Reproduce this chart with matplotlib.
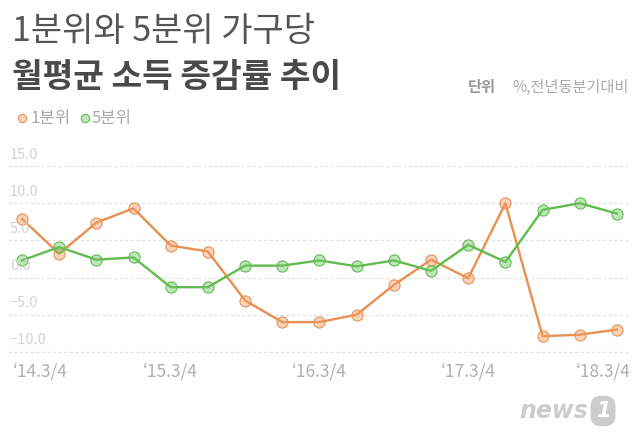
import matplotlib
matplotlib.use("Agg")
import matplotlib.pyplot as plt
import matplotlib.transforms as mtransforms

plt.rcParams['font.family'] = ['Noto Sans CJK KR', 'DejaVu Sans']

# quarterly growth of average monthly household income (% yoy)
quarters = list(range(17))
q1_values = [7.9, 3.2, 7.4, 9.3, 4.3, 3.5, -3.1, -6.0, -6.0, -5.0, -1.0, 2.4, -0.1, 10.0, -7.9, -7.7, -7.0]
q5_values = [2.3, 4.1, 2.4, 2.7, -1.3, -1.3, 1.6, 1.6, 2.3, 1.5, 2.3, 0.9, 4.4, 2.1, 9.1, 10.0, 8.6]
xtick_pos = [0, 4, 8, 12, 16]
xtick_labels = ['\u201814.3/4', '\u201815.3/4', '\u201816.3/4', '\u201817.3/4', '\u201818.3/4']
ytick_vals = [15, 10, 5, 0, -5, -10]

orange = '#e8904f'
orange_face = (0.95, 0.62, 0.42, 0.45)
green = '#62bb4f'
green_face = (0.45, 0.78, 0.40, 0.45)

fig = plt.figure(figsize=(6.4, 4.4), dpi=100)
ax = fig.add_axes([8 / 640, 0.192, 622 / 640, 0.439])

ax.plot(quarters, q1_values, color=orange, lw=1.7, zorder=3,
        marker='o', ms=8, mfc=orange_face, mec=orange, mew=0.8, clip_on=False)
ax.plot(quarters, q5_values, color=green, lw=1.7, zorder=3,
        marker='o', ms=8, mfc=green_face, mec=green, mew=0.8, clip_on=False)

ax.set_xlim(-0.376, 16.35)
ax.set_ylim(-10.5, 15.5)
for v in ytick_vals:
    ax.axhline(v, color='#e2e2e2', lw=0.8, ls=(0, (3, 2)), zorder=1)

# y labels sit above the grid lines, at the left edge
trans = mtransforms.blended_transform_factory(ax.transAxes, ax.transData)
for v in ytick_vals:
    ax.text(0.003, v + 0.6, f'{v:.1f}'.replace('-', '\u2212'), transform=trans,
            ha='left', va='bottom', fontsize=10.5, color='#d3d3d3')

# x labels: centred under the point, the two ends pulled inside the frame
xtrans = mtransforms.blended_transform_factory(ax.transData, ax.transAxes)
for i, (pos, lab) in enumerate(zip(xtick_pos, xtick_labels)):
    ha, dx = 'center', 0
    if i == 0:
        ha, dx = 'left', -9
    elif i == len(xtick_pos) - 1:
        ha, dx = 'right', 14
    t = mtransforms.offset_copy(xtrans, fig=fig, x=dx, y=0, units='dots')
    ax.text(pos, -0.085, lab, transform=t, ha=ha, va='center',
            fontsize=12.5, color='#b0b0b0')

ax.set_xticks([])
ax.set_yticks([])
for s in ax.spines.values():
    s.set_visible(False)

# titles
fig.text(12 / 640, 1 - 32 / 440, '1분위와 5분위 가구당', fontsize=24.5, color='#555555',
         va='center', ha='left')
fig.text(12 / 640, 1 - 77 / 440, '월평균 소득 증감률 추이', fontsize=24, color='#4a4a4a',
         fontweight='bold', va='center', ha='left')
fig.text(468 / 640, 1 - 87 / 440, '단위', fontsize=11, color='#999999',
         fontweight='bold', va='center', ha='left')
fig.text(629 / 640, 1 - 87 / 440, '%,전년동분기대비', fontsize=11, color='#aaaaaa',
         va='center', ha='right')

# legend
fig.lines.append(plt.Line2D([22 / 640], [1 - 118 / 440], marker='o', ms=6, mfc=orange_face,
                            mec=orange, mew=0.8, transform=fig.transFigure))
fig.text(31 / 640, 1 - 118 / 440, '1분위', fontsize=12, color='#aaaaaa', va='center', ha='left')
fig.lines.append(plt.Line2D([85 / 640], [1 - 118 / 440], marker='o', ms=6, mfc=green_face,
                            mec=green, mew=0.8, transform=fig.transFigure))
fig.text(92 / 640, 1 - 118 / 440, '5분위', fontsize=12, color='#aaaaaa', va='center', ha='left')

# logo
fig.text(588 / 640, 1 - 411 / 440, 'news', fontsize=17, color='#cccccc', fontstyle='italic',
         fontweight='bold', family='DejaVu Sans', va='center', ha='right')
fig.text(603 / 640, 1 - 411 / 440, '1', fontsize=15, color='white', fontstyle='italic',
         fontweight='bold', family='DejaVu Sans', va='center', ha='center',
         bbox=dict(boxstyle='round,pad=0.25,rounding_size=0.5', fc='#cccccc', ec='none'))

fig.savefig('out.png', dpi=100, facecolor='white')
